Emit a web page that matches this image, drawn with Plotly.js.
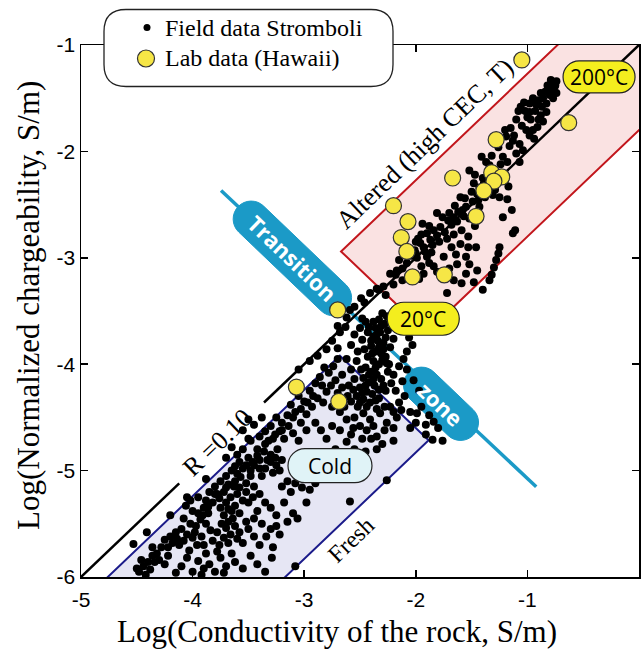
<!DOCTYPE html>
<html>
<head>
<meta charset="utf-8">
<script src="https://cdn.plot.ly/plotly-3.0.1.min.js"></script>
<style>
  html, body { margin: 0; padding: 0; background: #fff; }
  #chart { width: 642px; height: 650px; }
</style>
</head>
<body>
<div id="chart"></div>
<script>
// ---- Field data, Stromboli: [log10 conductivity (S/m), log10 normalized chargeability (S/m)] ----
// Altered (high CEC, T) domain
const fieldAltered = [
  [-0.74,-1.34],[-0.75,-1.38],[-0.77,-1.36],[-0.78,-1.42],[-0.74,-1.45],[-0.81,-1.42],[-0.80,-1.47],[-0.84,-1.44],
  [-0.88,-1.45],[-0.86,-1.50],[-0.77,-1.50],[-0.83,-1.55],[-0.90,-1.52],[-0.95,-1.50],[-0.92,-1.56],[-0.98,-1.55],
  [-0.83,-1.63],[-0.86,-1.72],[-0.91,-1.77],[-0.88,-1.66],[-0.98,-1.63],[-0.97,-1.70],[-1.01,-1.80],[-0.98,-1.85],[-0.95,-1.80],
  [-1.03,-1.54],[-1.08,-1.62],[-1.06,-1.58],[-1.05,-1.76],[-1.10,-1.70],[-1.13,-1.90],[-1.19,-1.86],[-1.07,-1.93],
  [-1.04,-1.99],[-1.10,-2.02],[-1.15,-1.78],[-1.20,-1.80],[-1.26,-1.96],[-1.22,-2.05],
  [-1.32,-2.04],[-1.41,-2.05],[-1.37,-2.10],[-1.34,-2.13],[-1.30,-2.17],[-1.25,-2.21],[-1.20,-2.27],[-1.17,-2.33],
  [-1.25,-2.43],[-1.31,-2.41],[-1.38,-2.43],[-1.45,-2.40],[-1.43,-2.34],[-1.48,-2.30],[-1.47,-2.22],[-1.52,-2.18],
  [-1.40,-2.25],[-1.35,-2.32],[-1.29,-2.36],
  [-1.43,-2.52],[-1.49,-2.47],[-1.55,-2.52],[-1.60,-2.43],[-1.65,-2.51],[-1.57,-2.61],[-1.66,-2.62],[-1.71,-2.65],
  [-1.68,-2.69],[-1.59,-2.74],[-1.53,-2.80],[-1.62,-2.57],[-1.52,-2.63],[-1.47,-2.70],
  [-1.78,-2.71],[-1.81,-2.58],[-1.84,-2.74],[-1.81,-2.79],[-1.87,-2.83],[-1.90,-2.77],[-1.93,-2.90],[-2.01,-2.93],
  [-1.96,-2.86],[-1.85,-2.88],[-1.90,-2.99],[-1.84,-3.08],[-1.81,-3.13],[-1.75,-2.99],[-1.68,-2.90],[-1.60,-2.87],
  [-1.53,-2.90],[-1.46,-2.90],[-1.55,-2.99],[-1.88,-2.70],[-1.95,-2.78],[-1.98,-2.82],[-1.92,-2.94],[-1.99,-3.00],[-2.04,-2.98],
  [-1.13,-2.77],[-1.11,-2.74],[-1.25,-2.90],[-1.26,-2.96],[-1.28,-3.02],[-1.32,-3.16],[-1.34,-3.21],[-1.30,-3.09],
  [-1.55,-3.15],[-1.59,-3.24],[-1.66,-3.21],[-1.72,-3.33],[-1.52,-3.06],[-1.63,-3.06],[-1.48,-3.23],
  [-2.02,-3.15],[-2.08,-3.05],[-2.17,-3.12],[-2.23,-3.15],[-2.29,-3.27],[-2.35,-3.29],[-2.41,-3.33],[-2.49,-3.38],
  [-2.55,-3.46],[-2.59,-3.49],[-1.93,-3.15],[-2.12,-3.21],[-2.20,-3.25],[-2.27,-3.35],[-1.95,-3.08],[-2.06,-2.92],
  [-2.12,-3.10],[-2.62,-3.56],[-2.46,-3.42],[-2.33,-3.30],[-2.18,-3.16],[-2.00,-2.96],[-2.70,-3.64],
  [-1.02,-1.62],[-1.12,-1.85],[-1.16,-1.95],[-1.18,-2.10],[-1.24,-2.12],[-1.28,-2.25],[-1.33,-2.22],[-1.39,-2.30],
  [-1.44,-2.46],[-1.50,-2.38],[-1.56,-2.44],[-1.58,-2.55],[-1.63,-2.66],[-1.70,-2.58],[-1.74,-2.76],[-1.76,-2.62],
  [-1.79,-2.85],[-1.86,-2.95],[-1.94,-2.68],[-2.00,-2.85],[-2.08,-2.98],[-2.10,-2.88],[-2.15,-3.02],[-1.72,-2.82],
  [-1.66,-2.78],[-1.64,-2.97],[-1.70,-3.10],[-1.76,-3.18],[-1.88,-3.05],[-1.97,-3.20],
  [-0.79,-1.33],[-0.76,-1.40],[-0.82,-1.38],[-0.93,-1.62],[-0.87,-1.58],[-1.00,-1.68],[-0.90,-1.70],[-0.94,-1.88],
  [-1.07,-2.10],[-1.14,-2.55],[-1.18,-2.45],[-1.22,-2.62],[-1.40,-3.30],[-1.45,-3.12]
];
// Transition zone
const fieldTransition = [
  [-2.30,-3.52],[-2.33,-3.58],[-2.28,-3.62],[-2.36,-3.66],[-2.32,-3.70],[-2.25,-3.68],[-2.38,-3.74],[-2.34,-3.78],
  [-2.29,-3.80],[-2.40,-3.83],[-2.36,-3.88],[-2.31,-3.90],[-2.43,-3.93],[-2.38,-3.97],[-2.33,-4.00],[-2.45,-4.03],
  [-2.40,-4.07],[-2.35,-4.10],[-2.47,-4.13],[-2.42,-4.17],[-2.37,-4.20],[-2.50,-4.22],[-2.44,-4.26],[-2.39,-4.28],
  [-2.53,-4.30],[-2.47,-4.33],[-2.41,-4.36],[-2.33,-4.32],[-2.27,-4.25],[-2.22,-4.18],[-2.20,-4.10],[-2.24,-4.00],
  [-2.27,-3.93],[-2.23,-3.84],[-2.20,-3.76],[-2.14,-3.68],[-2.05,-3.62],[-2.10,-3.58],[-2.15,-3.55],[-2.21,-3.56],
  [-2.45,-3.60],[-2.50,-3.66],[-2.48,-3.77],[-2.43,-3.70],[-2.55,-3.72],[-2.58,-3.82],[-2.52,-3.88],[-2.48,-3.57],
  [-2.06,-3.75],[-2.03,-3.82],[-2.08,-3.88],[-2.11,-3.95],[-2.15,-4.02],
  [-2.10,-4.30],[-2.13,-4.43],[-2.23,-4.40],[-2.32,-4.46],[-2.41,-4.52],[-2.47,-4.46],[-2.56,-4.60],[-2.17,-4.50],
  [-2.05,-4.45],[-1.99,-4.46],[-1.91,-4.57],[-1.84,-4.54],[-1.80,-4.60],[-1.91,-4.66],[-1.85,-4.71],[-1.76,-4.72],
  [-2.26,-4.55],[-2.05,-4.60],
  [-2.62,-3.95],[-2.58,-4.05],[-2.55,-4.14],[-2.60,-4.20],[-2.66,-4.10],[-2.52,-4.40],[-2.58,-4.35],
  [-2.75,-3.78],[-2.68,-3.70],[-2.63,-3.65],[-2.70,-3.85],[-2.80,-3.86],[-2.88,-3.92],[-2.95,-3.97],[-3.05,-4.05],
  [-2.31,-3.64],[-2.35,-3.72],[-2.27,-3.75],[-2.33,-3.84],[-2.39,-3.90],[-2.30,-3.96],[-2.36,-4.03],[-2.42,-4.10],
  [-2.31,-4.14],[-2.38,-4.14],[-2.45,-4.20],[-2.33,-4.24],[-2.48,-4.27],[-2.36,-4.34],[-2.44,-4.40],[-2.50,-4.36],
  [-2.29,-3.86],[-2.26,-3.99],[-2.25,-4.07],[-2.29,-4.20],[-2.18,-4.25],[-2.15,-4.36],[-2.20,-4.45],[-2.38,-3.60],
  [-2.42,-3.65],[-2.26,-3.55],[-2.40,-3.78],[-2.46,-3.86],[-2.53,-3.97],[-2.49,-4.05],[-2.56,-4.24],[-2.61,-4.30],
  [-2.64,-4.40],[-2.35,-4.42],[-2.28,-4.40],[-2.12,-4.16],[-2.08,-4.05],[-2.02,-4.15],[-1.97,-4.25],
  [-1.95,-4.40],[-1.88,-4.48],[-2.00,-4.55]
];
// Cold / fresh domain
const fieldCold = [
  [-2.70,-3.95],[-2.74,-4.02],[-2.78,-4.08],[-2.82,-4.03],[-2.86,-4.12],[-2.72,-4.15],[-2.66,-4.22],[-2.70,-4.27],
  [-2.76,-4.20],[-2.80,-4.26],[-2.90,-4.18],[-2.95,-4.25],[-2.88,-4.32],[-2.83,-4.36],[-2.75,-4.40],[-2.68,-4.45],
  [-2.62,-4.52],[-2.93,-4.40],[-3.00,-4.35],[-3.05,-4.30],[-2.98,-4.47],[-3.08,-4.45],[-3.12,-4.38],[-3.03,-4.55],
  [-2.55,-4.50],[-2.50,-4.58],[-2.44,-4.62],[-2.38,-4.58],[-2.58,-4.66],[-2.48,-4.70],[-2.35,-4.68],[-2.28,-4.62],
  [-2.20,-4.60],[-2.30,-4.75],[-2.62,-4.73],[-2.55,-4.80],[-2.45,-4.82],
  [-3.15,-4.48],[-3.20,-4.55],[-3.25,-4.50],[-3.30,-4.58],[-3.22,-4.63],[-3.35,-4.63],[-3.28,-4.70],[-3.40,-4.68],
  [-3.35,-4.75],[-3.42,-4.80],[-3.18,-4.70],[-3.10,-4.65],[-3.05,-4.72],[-2.98,-4.62],[-2.90,-4.55],[-2.85,-4.62],
  [-2.80,-4.70],[-2.75,-4.58],[-3.48,-4.72],[-3.30,-4.85],[-3.24,-4.80],[-3.45,-4.57],[-3.38,-4.50],[-3.55,-4.62],[-3.50,-4.52],
  [-3.20,-4.90],[-3.25,-4.95],[-3.30,-4.92],[-3.35,-4.98],[-3.28,-5.02],[-3.22,-5.00],[-3.40,-4.90],[-3.45,-4.95],
  [-3.38,-5.05],[-3.50,-4.88],[-3.55,-4.80],[-3.60,-4.85],[-3.65,-4.78],
  [-3.15,-5.10],[-3.08,-5.12],[-3.02,-5.16],[-2.95,-5.18],[-3.12,-5.20],[-3.20,-5.15],[-3.00,-5.08],[-2.90,-5.12],
  [-3.55,-4.98],[-3.60,-5.03],[-3.65,-5.00],[-3.70,-5.05],[-3.75,-5.10],[-3.68,-5.13],[-3.62,-5.10],[-3.58,-5.16],
  [-3.52,-5.12],[-3.48,-5.05],[-3.45,-5.15],[-3.80,-5.15],[-3.85,-5.20],[-3.78,-5.22],[-3.72,-5.20],[-3.66,-5.25],
  [-3.60,-5.22],[-3.55,-5.28],[-3.50,-5.30],[-3.70,-5.30],[-3.75,-5.35],[-3.82,-5.30],[-3.88,-5.28],[-3.65,-5.38],
  [-3.58,-5.40],[-3.72,-5.42],
  [-3.68,-5.48],[-3.70,-5.54],[-3.66,-5.60],[-3.72,-5.63],[-3.68,-5.68],[-3.62,-5.52],[-3.60,-5.64],
  [-3.40,-5.22],[-3.35,-5.30],[-3.30,-5.35],[-3.42,-5.38],[-3.25,-5.42],[-3.45,-5.45],[-3.38,-5.50],[-3.50,-5.55],
  [-3.30,-5.55],[-3.22,-5.60],[-3.45,-5.62],[-3.55,-5.68],[-3.40,-5.70],[-3.18,-5.30],[-3.10,-5.40],[-3.28,-5.72],
  [-3.90,-5.35],[-3.95,-5.40],[-4.00,-5.38],[-3.93,-5.46],[-4.02,-5.50],[-4.08,-5.45],[-4.10,-5.55],[-4.05,-5.60],
  [-3.98,-5.58],[-3.92,-5.62],[-4.15,-5.58],[-4.20,-5.62],[-4.18,-5.68],[-4.12,-5.70],[-4.25,-5.65],[-3.88,-5.50],
  [-3.86,-5.40],[-3.95,-5.25],[-4.02,-5.28],[-4.06,-5.33],[-3.84,-5.56],[-3.96,-5.70],[-4.03,-5.75],
  [-4.28,-5.72],[-4.32,-5.78],[-4.36,-5.80],[-4.30,-5.84],[-4.40,-5.86],[-4.44,-5.90],[-4.38,-5.93],[-4.48,-5.95],
  [-4.42,-5.98],[-4.22,-5.80],[-4.25,-5.88],[-4.53,-5.69],[-4.41,-5.58],
  [-3.95,-5.85],[-3.90,-5.92],[-3.85,-5.88],[-3.80,-5.95],[-3.75,-5.82],[-3.70,-5.90],[-3.62,-5.86],[-3.55,-5.92],
  [-3.88,-5.78],[-3.78,-5.76],[-4.10,-5.90],[-4.15,-5.96],[-3.29,-5.82],[-3.08,-5.90],[-3.35,-5.95],
  [-2.26,-5.09],[-2.59,-5.29],
  [-3.50,-4.70],[-3.70,-4.88],[-3.88,-5.08],[-4.05,-5.25],[-4.20,-5.42],
  [-2.84,-4.20],[-2.92,-4.30],[-2.97,-4.36],[-3.03,-4.42],[-3.10,-4.50],[-3.14,-4.58],[-3.20,-4.62],[-3.26,-4.66],
  [-3.32,-4.72],[-3.36,-4.82],[-3.42,-4.86],[-3.46,-4.92],[-3.52,-4.95],[-3.58,-4.92],[-3.62,-4.96],[-3.40,-4.98],
  [-3.33,-4.90],[-3.26,-4.88],[-3.48,-5.00],[-3.57,-5.06],[-3.63,-5.15],[-3.70,-5.16],[-3.76,-5.26],[-3.80,-5.22],
  [-3.86,-5.34],[-3.91,-5.42],[-3.97,-5.52],[-4.00,-5.63],[-4.08,-5.66],[-4.14,-5.64],[-4.22,-5.72],[-4.34,-5.86],
  [-4.36,-5.72],[-4.46,-5.84],[-4.50,-5.92],[-3.62,-5.33],[-3.68,-5.36],[-3.52,-5.20],[-3.46,-5.25],[-3.64,-5.45],
  [-3.74,-5.50],[-3.78,-5.58],[-3.82,-5.66],[-3.90,-5.70],[-3.76,-5.70],[-3.58,-5.58],[-3.52,-5.48],[-3.34,-5.62],
  [-3.25,-5.52],[-3.15,-5.48],[-3.06,-5.45],[-2.98,-5.30],
  [-2.68,-4.62],[-2.72,-4.80],[-2.40,-4.70],[-2.35,-4.80],[-2.20,-4.72],
  [-3.65,-5.78],[-3.72,-5.96],[-3.48,-5.80],[-3.42,-5.88],[-4.05,-5.82],[-4.00,-5.95],[-3.92,-5.98]
];

// ---- Lab data, Hawaii ----
const labX = [-1.05,-0.63,-1.28,-1.67,-1.32,-1.23,-1.30,-1.39,-2.20,-1.46,-2.07,-2.13,-2.08,-2.03,-1.745,-2.70,-3.07,-2.69];
const labY = [-1.14,-1.73,-1.89,-2.25,-2.20,-2.24,-2.28,-2.37,-2.51,-2.61,-2.66,-2.81,-2.94,-3.18,-3.16,-3.49,-4.215,-4.35];

// ---- Reference ratio line: Mn = R * sigma ----
const R = 0.10;
const refLineX = [-5, -4.12, null, -3.36, 0];   // broken where the "R =0.10" label sits

// ---- Domains (corners in data units) ----
const alteredBox = [[-2.67,-2.94],[-1.905,-3.705],[1.095,-0.705],[0.33,0.06]];
const freshBox   = [[-2.68,-3.92],[-1.885,-4.715],[-4.885,-7.715],[-5.68,-6.92]];
const transitionLine = [[-3.745,-2.368],[-0.921,-5.152]];

// ---- Axes ----
const xTicks = [-5,-4,-3,-2,-1,0];
const yTicks = [-6,-5,-4,-3,-2,-1];

// ---- Legend entries ----
const legendNames = ['Field data Stromboli', 'Lab data (Hawaii)'];

// ---------------------------------------------------------------
const fieldAll = fieldAltered.concat(fieldTransition, fieldCold);

function polyPath(pts) {
  return 'M' + pts.map(p => p[0] + ',' + p[1]).join(' L') + ' Z';
}

// rounded rectangle centred on (0,0), in pixels, rotated by deg (counter-clockwise, y up)
function roundedRectPath(w, h, r, deg) {
  const a = deg * Math.PI / 180, c = Math.cos(a), s = Math.sin(a);
  const k = 0.5523 * r, hw = w / 2, hh = h / 2;
  const segs = [
    ['M', [-hw + r, -hh]],
    ['L', [hw - r, -hh]],
    ['C', [hw - r + k, -hh], [hw, -hh + r - k], [hw, -hh + r]],
    ['L', [hw, hh - r]],
    ['C', [hw, hh - r + k], [hw - r + k, hh], [hw - r, hh]],
    ['L', [-hw + r, hh]],
    ['C', [-hw + r - k, hh], [-hw, hh - r + k], [-hw, hh - r]],
    ['L', [-hw, -hh + r]],
    ['C', [-hw, -hh + r - k], [-hw + r - k, -hh], [-hw + r, -hh]]
  ];
  const rot = p => (p[0] * c - p[1] * s).toFixed(2) + ',' + (p[0] * s + p[1] * c).toFixed(2);
  return segs.map(sg => sg[0] + sg.slice(1).map(rot).join(' ')).join(' ') + ' Z';
}

function pill(cx, cy, w, h, deg, fill, lineColor, lineWidth, layer) {
  return {
    type: 'path', xref: 'x', yref: 'y', xsizemode: 'pixel', ysizemode: 'pixel',
    xanchor: cx, yanchor: cy, path: roundedRectPath(w, h, h / 2, deg),
    fillcolor: fill, line: { color: lineColor, width: lineWidth }, layer: layer
  };
}

// Legend block: everything placed in pixels from the top-left corner of the plot area
const PLOT_L = 81, PLOT_T = 44.5, PLOT_W = 558, PLOT_H = 533;
const legendBox = { left: 104, right: 393, top: 9, bottom: 86, radius: 22 };
const legendRows = [27, 58];
const legendMarkerX = 147, legendTextX = 163;

function legendFramePath(b) {
  const x0 = b.left - PLOT_L, x1 = b.right - PLOT_L;
  const y1 = PLOT_T - b.top, y0 = PLOT_T - b.bottom, r = b.radius;   // y up
  const p = (x, y) => x.toFixed(1) + ',' + y.toFixed(1);
  return 'M' + p(x0 + r, y1) + ' L' + p(x1 - r, y1) + ' Q' + p(x1, y1) + ' ' + p(x1, y1 - r) +
    ' L' + p(x1, y0 + r) + ' Q' + p(x1, y0) + ' ' + p(x1 - r, y0) +
    ' L' + p(x0 + r, y0) + ' Q' + p(x0, y0) + ' ' + p(x0, y0 + r) +
    ' L' + p(x0, y1 - r) + ' Q' + p(x0, y1) + ' ' + p(x0 + r, y1) + ' Z';
}

function legendDot(cxPx, cyPx, d, fill, lineColor, lineWidth) {
  const cx = cxPx - PLOT_L, cy = PLOT_T - cyPx;
  return {
    type: 'circle', xref: 'paper', yref: 'paper', xsizemode: 'pixel', ysizemode: 'pixel',
    xanchor: 0, yanchor: 1, x0: cx - d / 2, x1: cx + d / 2, y0: cy - d / 2, y1: cy + d / 2,
    fillcolor: fill, line: { color: lineColor, width: lineWidth }, layer: 'above'
  };
}

const BLUE = '#1b9ac7';
const YELLOW_DOT = '#f6e646';
const SERIF = 'Liberation Serif, Times New Roman, serif';
const SANS = 'Open Sans, Noto Sans, sans-serif';
const DIAG = 43.7;   // on-screen angle of a 1:1 line in this plot

const traces = [
  {
    x: refLineX, y: refLineX.map(v => v === null ? null : v + Math.log10(R)),
    mode: 'lines', line: { color: '#000', width: 2.5 }, showlegend: false, hoverinfo: 'skip'
  },
  {
    name: legendNames[0], showlegend: false,
    x: fieldAll.map(p => p[0]), y: fieldAll.map(p => p[1]),
    mode: 'markers', marker: { color: '#000', size: 8 }
  },
  {
    name: legendNames[1], showlegend: false,
    x: labX, y: labY, mode: 'markers',
    marker: { color: YELLOW_DOT, size: 16, line: { color: '#333', width: 1.2 } }
  }
];

const shapes = [
  { type: 'path', xref: 'x', yref: 'y', path: polyPath(alteredBox), fillcolor: '#fae2e2',
    line: { color: '#c2161c', width: 2 }, layer: 'below' },
  { type: 'path', xref: 'x', yref: 'y', path: polyPath(freshBox), fillcolor: '#e6e6f4',
    line: { color: '#1b1b8a', width: 2 }, layer: 'below' },
  { type: 'line', xref: 'x', yref: 'y', x0: transitionLine[0][0], y0: transitionLine[0][1],
    x1: transitionLine[1][0], y1: transitionLine[1][1], line: { color: BLUE, width: 3.5 }, layer: 'between' },
  pill(-3.106, -3.006, 150, 36, -DIAG, BLUE, BLUE, 1, 'between'),
  pill(-1.774, -4.372, 90, 36, -DIAG, BLUE, BLUE, 1, 'between'),
  pill(-0.358, -1.30, 72, 32, 0, '#f4ee1e', '#222', 1.2, 'above'),
  pill(-1.933, -3.573, 72, 33, 0, '#f4ee1e', '#222', 1.2, 'above'),
  pill(-2.769, -4.954, 84, 34, 0, '#e0f3f7', '#222', 1.2, 'above'),
  { type: 'path', xref: 'paper', yref: 'paper', xsizemode: 'pixel', ysizemode: 'pixel',
    xanchor: 0, yanchor: 1, layer: 'above', fillcolor: '#fff',
    line: { color: '#222', width: 1.3 }, path: legendFramePath(legendBox) },
  legendDot(legendMarkerX, legendRows[0], 7, '#000', '#000', 0),
  legendDot(legendMarkerX - 1, legendRows[1], 17, YELLOW_DOT, '#333', 1.2)
];

const annotations = [
  { x: -3.106, y: -3.006, text: '<b>Transition</b>', textangle: DIAG, font: { family: SANS, size: 22, color: '#fff' } },
  { x: -1.774, y: -4.372, text: '<b>zone</b>', textangle: DIAG, font: { family: SANS, size: 22, color: '#fff' } },
  { x: -0.358, y: -1.30, text: '200°C', font: { family: SANS, size: 21, color: '#000' } },
  { x: -1.933, y: -3.573, text: '20°C', font: { family: SANS, size: 21, color: '#000' } },
  { x: -2.769, y: -4.954, text: 'Cold', font: { family: SANS, size: 21, color: '#000' } },
  { x: -1.918, y: -1.927, text: 'Altered (high CEC, T)', textangle: -DIAG, font: { family: SERIF, size: 26, color: '#000' } },
  { x: -3.778, y: -4.732, text: 'R =0.10', textangle: -DIAG, font: { family: SERIF, size: 26, color: '#000' } },
  { x: -2.584, y: -5.648, text: 'Fresh', textangle: -DIAG, font: { family: SERIF, size: 24, color: '#000' } }
].map(a => Object.assign({ xref: 'x', yref: 'y', showarrow: false }, a));

// legend labels
legendNames.forEach((name, i) => annotations.push({
  xref: 'paper', yref: 'paper', x: (legendTextX - PLOT_L) / PLOT_W, y: (PLOT_T + PLOT_H - legendRows[i]) / PLOT_H,
  xanchor: 'left', yanchor: 'middle', showarrow: false, text: name,
  font: { family: SERIF, size: 24, color: '#000' }
}));

// axis titles
annotations.push(
  { xref: 'paper', yref: 'paper', x: (337 - PLOT_L) / PLOT_W, y: (PLOT_T + PLOT_H - 632) / PLOT_H,
    xanchor: 'center', yanchor: 'middle', showarrow: false,
    text: 'Log(Conductivity of the rock, S/m)', font: { family: SERIF, size: 31, color: '#000' } },
  { xref: 'paper', yref: 'paper', x: (28 - PLOT_L) / PLOT_W, y: (PLOT_T + PLOT_H - 306) / PLOT_H,
    xanchor: 'center', yanchor: 'middle', showarrow: false, textangle: -90,
    text: 'Log(Normalized chargeability, S/m)', font: { family: SERIF, size: 31, color: '#000' } }
);

const axisCommon = {
  ticks: 'inside', ticklen: 7, tickwidth: 1.5, tickcolor: '#000',
  showline: true, linecolor: '#000', linewidth: 1.5, mirror: 'ticks',
  showgrid: false, zeroline: false, automargin: false, fixedrange: true,
  tickfont: { family: 'Liberation Sans, Arial, sans-serif', size: 21, color: '#000' }
};

const layout = {
  width: 642, height: 650,
  margin: { l: PLOT_L, r: 642 - PLOT_L - PLOT_W, t: PLOT_T, b: 650 - PLOT_T - PLOT_H, pad: 0 },
  paper_bgcolor: '#fff', plot_bgcolor: '#fff',
  font: { family: 'Liberation Sans, Arial, sans-serif', color: '#000' },
  showlegend: false,
  xaxis: Object.assign({}, axisCommon, {
    range: [-5, 0], tickvals: xTicks, ticktext: xTicks.map(String), ticklabelstandoff: 3
  }),
  yaxis: Object.assign({}, axisCommon, {
    range: [-6, -1], tickvals: yTicks, ticktext: yTicks.map(String), ticklabelstandoff: 0
  }),
  shapes: shapes,
  annotations: annotations
};

Plotly.newPlot('chart', traces, layout, { staticPlot: true, displayModeBar: false });
</script>
</body>
</html>
